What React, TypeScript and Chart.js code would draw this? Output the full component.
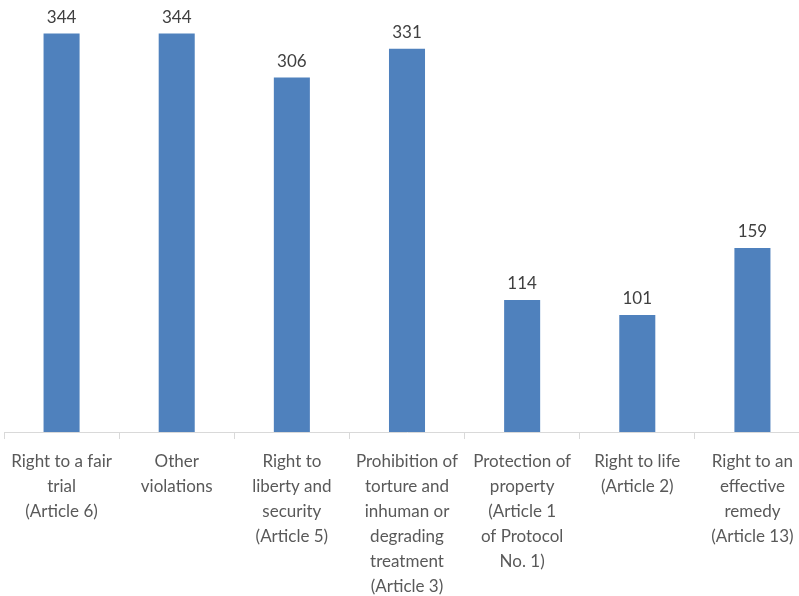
import React, { useEffect, useRef } from "react";
import { Chart, registerables } from "chart.js";

Chart.register(...registerables);

const categories: string[][] = [
  ["Right to a fair", "trial", "(Article 6)"],
  ["Other", "violations"],
  ["Right to", "liberty and", "security", "(Article 5)"],
  ["Prohibition of", "torture and", "inhuman or", "degrading", "treatment", "(Article 3)"],
  ["Protection of", "property", "(Article 1", "of Protocol", "No. 1)"],
  ["Right to life", "(Article 2)"],
  ["Right to an", "effective", "remedy", "(Article 13)"],
];

const values: number[] = [344, 344, 306, 331, 114, 101, 159];

const FONT = "'Lato', 'Open Sans', sans-serif";

const valueLabels = {
  id: "valueLabels",
  afterDatasetsDraw(chart: any) {
    const ctx = chart.ctx;
    const meta = chart.getDatasetMeta(0);
    ctx.save();
    ctx.fillStyle = "#404040";
    ctx.font = `17px ${FONT}`;
    ctx.textAlign = "center";
    ctx.textBaseline = "bottom";
    meta.data.forEach((el: any, i: number) => {
      ctx.fillText(String(values[i]), el.x, el.y - 8);
    });
    ctx.restore();
  },
};

export default function App() {
  const ref = useRef<HTMLCanvasElement>(null);
  useEffect(() => {
    document.body.style.margin = "0";
    const chart = new Chart(ref.current!, {
      type: "bar",
      data: {
        labels: categories,
        datasets: [
          {
            data: values,
            backgroundColor: "#4F81BD",
            categoryPercentage: 1,
            barPercentage: 0.313,
          },
        ],
      },
      options: {
        animation: false,
        responsive: false,
        maintainAspectRatio: false,
        layout: { padding: { left: 4, right: 1, top: 0, bottom: 0 } },
        plugins: { legend: { display: false }, tooltip: { enabled: false } },
        scales: {
          x: {
            offset: true,
            grid: {
              display: true,
              drawOnChartArea: false,
              offset: true,
              tickLength: 7,
              color: "#D9D9D9",
            },
            border: { display: true, color: "#D9D9D9" },
            ticks: {
              color: "#595959",
              font: { family: FONT, size: 17, lineHeight: 1.47 },
              padding: 10,
              maxRotation: 0,
              autoSkip: false,
            },
          },
          y: {
            display: false,
            min: 0,
            max: 373,
          },
        },
      },
      plugins: [valueLabels],
    });
    return () => chart.destroy();
  }, []);
  return (
    <div style={{ position: "absolute", left: 0, top: 0, width: 799, height: 596, overflow: "hidden" }}>
      <canvas ref={ref} width={811} height={609} style={{ width: 811, height: 609, display: "block" }} />
    </div>
  );
}
